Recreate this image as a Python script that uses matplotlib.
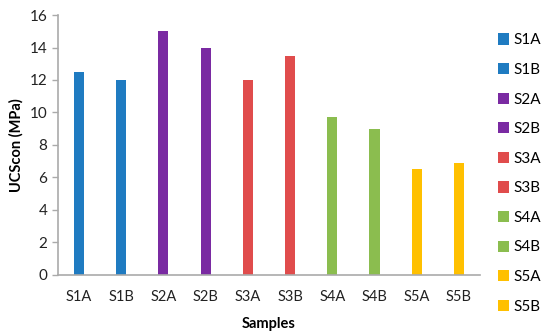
import numpy as np
import matplotlib.pyplot as plt
from matplotlib.patches import Patch

plt.rcParams['font.family'] = ['Lato', 'DejaVu Sans']

samples = ['S1A', 'S1B', 'S2A', 'S2B', 'S3A', 'S3B', 'S4A', 'S4B', 'S5A', 'S5B']
ucs = [12.5, 12.0, 15.0, 14.0, 12.0, 13.5, 9.7, 9.0, 6.5, 6.9]
colors = ['#1f7bc1', '#1f7bc1', '#7a2aa2', '#7a2aa2', '#e04c4c', '#e04c4c',
          '#8bbd4f', '#8bbd4f', '#ffc000', '#ffc000']

fig = plt.figure(figsize=(5.5, 3.34), dpi=100)
ax = fig.add_axes([0.105, 0.177, 0.768, 0.778])

x = np.arange(len(samples))
ax.bar(x, ucs, width=0.24, color=colors)

ax.set_xlim(-0.5, 9.5)
ax.set_ylim(0, 16)
ax.set_yticks(range(0, 17, 2))
ax.set_xticks(x)
ax.set_xticklabels(samples)
ax.tick_params(axis='x', length=0, pad=11, labelsize=10.5, colors='#222222')
ax.tick_params(axis='y', length=4, width=1, color='#aaaaaa', labelsize=11, labelcolor='#222222')
for s in ['top', 'right']:
    ax.spines[s].set_visible(False)
for s in ['left', 'bottom']:
    ax.spines[s].set_color('#aaaaaa')
    ax.spines[s].set_linewidth(1.2)

ax.set_ylabel('UCScon (MPa)', fontweight='bold', fontsize=10.5, labelpad=4)
ax.set_xlabel('Samples', fontweight='bold', fontsize=10.5, labelpad=9)

handles = [Patch(facecolor=c, edgecolor='none') for c in colors]
fig.legend(handles, samples, loc='upper left', bbox_to_anchor=(0.905, 0.9),
           frameon=False, fontsize=11, handlelength=0.75, handleheight=0.75,
           handletextpad=0.3, labelspacing=1.02, borderaxespad=0, borderpad=0)

fig.savefig('out.png', dpi=100)
